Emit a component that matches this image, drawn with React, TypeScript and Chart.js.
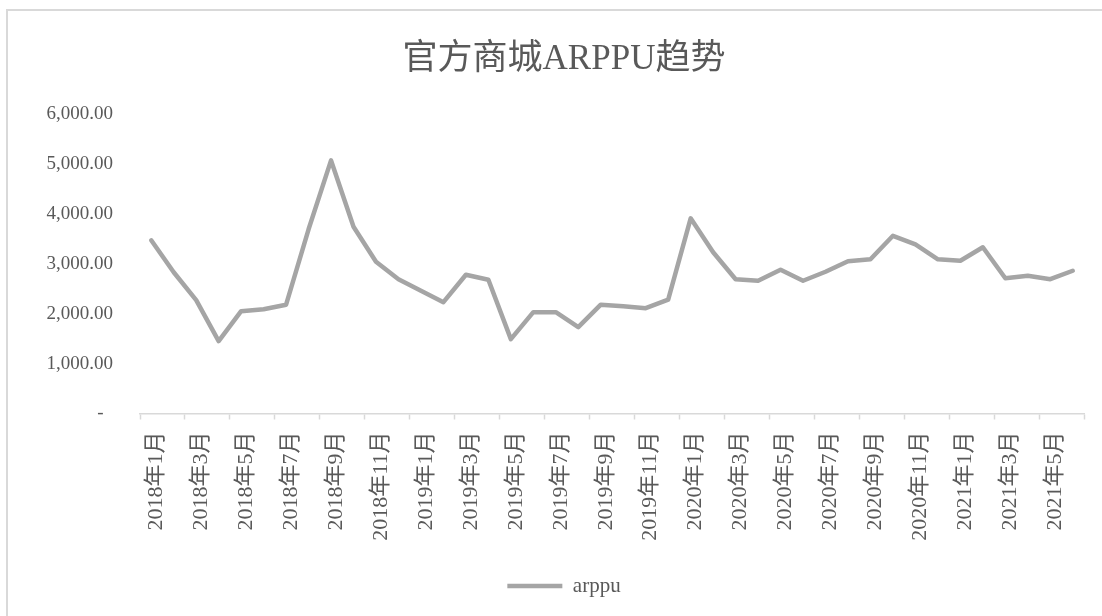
import React, { useEffect, useRef } from "react";
import { Chart, registerables } from "chart.js";

Chart.register(...registerables);

const months: string[] = [
  "2018年1月", "2018年2月", "2018年3月", "2018年4月", "2018年5月", "2018年6月",
  "2018年7月", "2018年8月", "2018年9月", "2018年10月", "2018年11月", "2018年12月",
  "2019年1月", "2019年2月", "2019年3月", "2019年4月", "2019年5月", "2019年6月",
  "2019年7月", "2019年8月", "2019年9月", "2019年10月", "2019年11月", "2019年12月",
  "2020年1月", "2020年2月", "2020年3月", "2020年4月", "2020年5月", "2020年6月",
  "2020年7月", "2020年8月", "2020年9月", "2020年10月", "2020年11月", "2020年12月",
  "2021年1月", "2021年2月", "2021年3月", "2021年4月", "2021年5月", "2021年6月",
];

const arppu: number[] = [
  3470, 2830, 2270, 1450, 2050, 2090, 2180, 3690, 5070, 3740, 3040, 2690,
  2460, 2230, 2780, 2680, 1490, 2030, 2030, 1730, 2180, 2150, 2110, 2280,
  3910, 3230, 2690, 2660, 2880, 2660, 2840, 3050, 3090, 3560, 3390, 3090,
  3060, 3330, 2710, 2760, 2690, 2860,
];

const seriesName = "arppu";
const chartTitle = "官方商城ARPPU趋势";
const yMin = 0;
const yMax = 6000;
const yStep = 1000;

const FONT = "'Liberation Serif', 'Times New Roman', 'Noto Sans CJK SC', serif";
const TEXT = "#595959";
const AXIS = "#d9d9d9";
const LINE = "#a5a5a5";

export default function App() {
  const ref = useRef<HTMLCanvasElement | null>(null);

  useEffect(() => {
    if (!ref.current) return;
    const chart = new Chart(ref.current, {
      type: "line",
      data: {
        labels: months,
        datasets: [
          {
            label: seriesName,
            data: arppu,
            borderColor: LINE,
            backgroundColor: LINE,
            borderWidth: 4.5,
            pointRadius: 0,
            pointHoverRadius: 0,
            tension: 0,
            borderCapStyle: "round",
            borderJoinStyle: "round",
            pointStyle: "line",
          },
        ],
      },
      options: {
        responsive: false,
        animation: false,
        layout: { padding: { top: 10, left: 44, right: 18, bottom: 9.5 } },
        plugins: {
          tooltip: { enabled: false },
          title: {
            display: true,
            text: chartTitle,
            color: TEXT,
            font: { family: FONT, size: 35, weight: "normal" },
            padding: { top: 29, bottom: 33 },
          },
          legend: {
            position: "bottom",
            labels: {
              usePointStyle: true,
              pointStyle: "line",
              pointStyleWidth: 55,
              color: TEXT,
              font: { family: FONT, size: 21 },
              padding: 10,
            },
          },
        },
        scales: {
          x: {
            offset: true,
            grid: {
              offset: true,
              drawOnChartArea: false,
              drawTicks: true,
              tickLength: 6,
              tickWidth: 1.5,
              tickColor: (c: any) =>
                c.index === undefined || c.index % 2 === 0 ? AXIS : "rgba(0,0,0,0)",
            },
            border: { display: true, color: AXIS, width: 1.5 },
            ticks: {
              autoSkip: false,
              minRotation: 90,
              maxRotation: 90,
              padding: 12,
              labelOffset: 5,
              color: TEXT,
              font: { family: FONT, size: 22 },
              callback: (_v: any, i: number) => (i % 2 === 0 ? months[i] : ""),
            },
            afterFit: (s: any) => {
              s.height = 152;
              s.paddingLeft = 0;
              s.paddingRight = 0;
            },
          },
          y: {
            min: yMin,
            max: yMax,
            grid: { display: false, drawTicks: false },
            border: { display: false },
            ticks: {
              stepSize: yStep,
              padding: 27,
              color: TEXT,
              font: { family: FONT, size: 19 },
              callback: (v: any) =>
                Number(v) === 0
                  ? "-  "
                  : Number(v).toLocaleString("en-US", {
                      minimumFractionDigits: 2,
                      maximumFractionDigits: 2,
                    }),
            },
            afterFit: (s: any) => {
              s.width = 96;
            },
          },
        },
      },
    });
    return () => chart.destroy();
  }, []);

  return (
    <div
      style={{
        position: "fixed",
        left: 0,
        top: 0,
        width: 1102,
        height: 616,
        overflow: "hidden",
        background: "#ffffff",
      }}
    >
      <div
        style={{
          position: "absolute",
          left: 6,
          top: 9,
          width: 1200,
          height: 700,
          borderLeft: `2px solid ${AXIS}`,
          borderTop: `2px solid ${AXIS}`,
        }}
      />
      <canvas
        ref={ref}
        width={1102}
        height={616}
        style={{ position: "absolute", left: 0, top: 0, width: 1102, height: 616 }}
      />
    </div>
  );
}
